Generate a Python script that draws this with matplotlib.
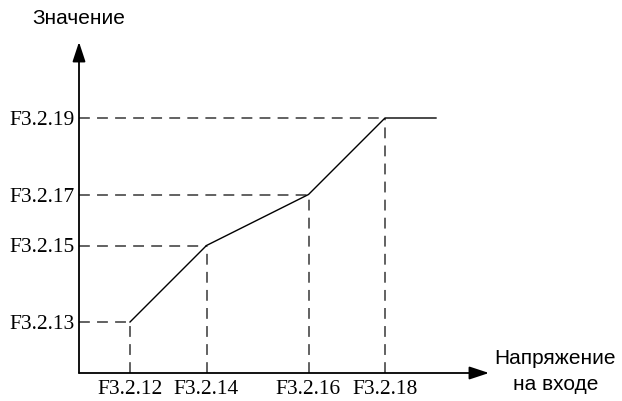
import matplotlib
matplotlib.use('Agg')
import matplotlib.pyplot as plt

# breakpoints of the characteristic (arbitrary units)
x_vals = [1.0, 2.5, 4.5, 6.0]
y_vals = [1.0, 2.5, 3.5, 5.0]
x_end = 7.0
x_labels = ['F3.2.12', 'F3.2.14', 'F3.2.16', 'F3.2.18']
y_labels = ['F3.2.13', 'F3.2.15', 'F3.2.17', 'F3.2.19']

fig = plt.figure(figsize=(6.22, 4.01), dpi=100)
ax = fig.add_axes([79/622, 28/401, 410/622, 331/401])
ax.set_xlim(0, 410/51)
ax.set_ylim(0, 331/51)
for s in ax.spines.values():
    s.set_visible(False)

dash_col = '#555555'
for xv, yv in zip(x_vals, y_vals):
    ax.plot([0, xv], [yv, yv], color=dash_col, lw=1.3, dashes=(6, 4))
    ax.plot([xv, xv], [0, yv], color=dash_col, lw=1.3, dashes=(6, 4))

ax.plot(x_vals + [x_end], y_vals + [y_vals[-1]], color='black', lw=1.0)

# axes with arrow heads
arrow = dict(arrowstyle='-|>,head_length=1.0,head_width=0.33', color='black',
             lw=1.3, shrinkA=0, shrinkB=0, mutation_scale=12)
ax.annotate('', xy=(1, 0), xytext=(0, 0), xycoords='axes fraction', arrowprops=arrow)
ax.annotate('', xy=(0, 1), xytext=(0, 0), xycoords='axes fraction', arrowprops=arrow)

ax.set_xticks(x_vals)
ax.set_xticklabels(x_labels, fontsize=15.5, family=['Liberation Serif'])
ax.set_yticks(y_vals)
ax.set_yticklabels(y_labels, fontsize=15.5, family=['Liberation Serif'])
ax.tick_params(axis='x', length=0, pad=5)
ax.tick_params(axis='y', length=0, pad=3)

fig.text(32/622, 1 - 18/401, 'Значение', fontsize=15, family=['Liberation Sans'],
         ha='left', va='center')
fig.text(555/622, 1 - 358/401, 'Напряжение', fontsize=15, family=['Liberation Sans'],
         ha='center', va='center')
fig.text(556/622, 1 - 384/401, 'на входе', fontsize=15, family=['Liberation Sans'],
         ha='center', va='center')

fig.savefig('out.png', dpi=100)
